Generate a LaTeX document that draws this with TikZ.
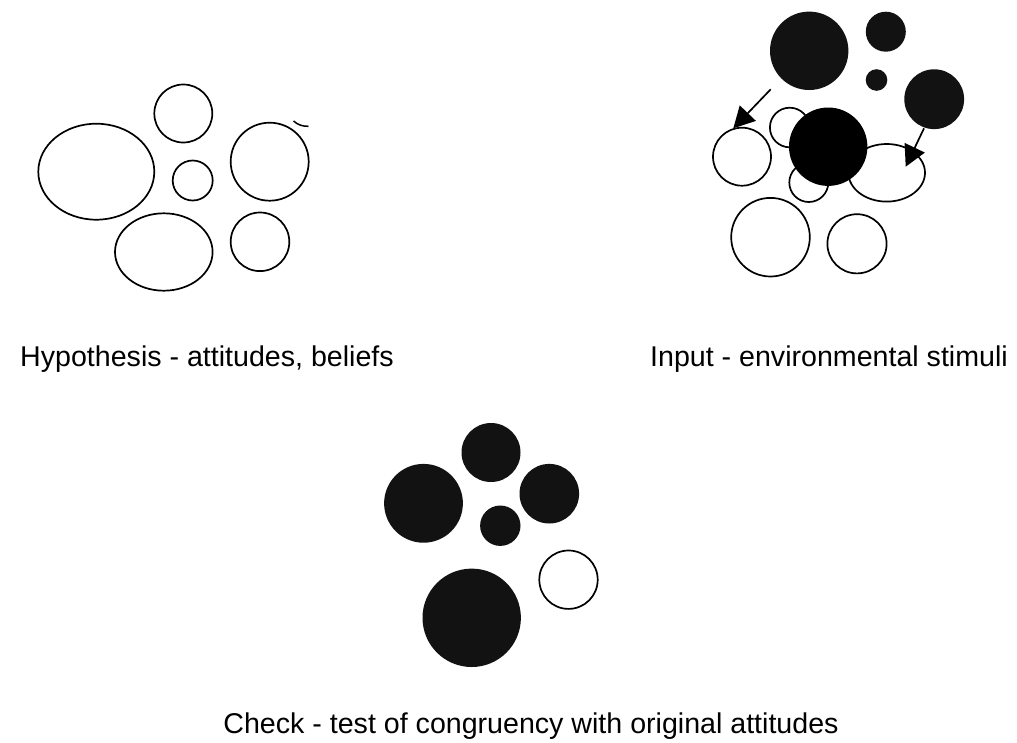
\documentclass[tikz,border=0pt]{standalone}
\usepackage{fontspec}
\setmainfont{Liberation Sans}
\usetikzlibrary{arrows.meta}
\begin{document}
\begin{tikzpicture}[x=1pt,y=-1pt,
  ring/.style={draw=black,line width=1.7pt,fill=white},
  dot/.style={fill=black!93,draw=none},
  solid dot/.style={fill=black,draw=none},
  label/.style={font=\fontsize{28.6}{32}\selectfont,inner sep=0pt},
  link/.style={line width=1.7pt,-{Triangle[length=21pt,width=22pt]},shorten >=0pt}]
\useasboundingbox (0,0) rectangle (1017,742);

% --- hypothesis cluster
\draw[ring] (96.3,171.7) ellipse [x radius=58,y radius=48];
\draw[ring] (183.3,113.5) circle [radius=29];
\draw[ring] (192.7,180.5) circle [radius=20];
\draw[ring] (269.7,161.7) circle [radius=39];
\draw[ring] (163.8,252) ellipse [x radius=48.8,y radius=38.7];
\draw[ring] (260,241.8) circle [radius=29.3];
\draw[line width=1.5pt] (293.5,121) .. controls (298,125) and (303,126.5) .. (308.5,126.3);
\node[label,anchor=base west] (hyp) at (20,366) {Hypothesis - attitudes, beliefs};

% --- input cluster
\draw[ring] (742,156.7) circle [radius=29];
\draw[ring] (789.7,127.5) circle [radius=19.8];
\draw[ring] (808.8,182.5) circle [radius=19.5];
\draw[ring] (886.7,172.8) ellipse [x radius=38.3,y radius=28.8];
\draw[ring] (770.5,237.2) circle [radius=39.3];
\draw[ring] (857,243.8) circle [radius=29.6];
\path[dot] (809.2,50.8) circle [radius=39.2];
\path[dot] (885.8,31.7) circle [radius=20];
\path[dot] (876.5,80) circle [radius=10.8];
\path[dot] (934.2,99.2) circle [radius=29.9];
\path[solid dot] (828.2,146.7) circle [radius=39.2];
\coordinate (a1s) at (770.7,89.3);
\coordinate (a1e) at (733.3,128.3);
\coordinate (a2s) at (924,128.3);
\coordinate (a2e) at (905.7,166.7);
\draw[link] (a1s) -- (a1e);
\draw[link] (a2s) -- (a2e);
\node[label,anchor=base east] (inp) at (1008,366) {Input - environmental stimuli};

% --- check cluster
\path[dot] (491,452.5) circle [radius=29.5];
\path[dot] (423.5,503.3) circle [radius=39.4];
\path[dot] (549.3,493.7) circle [radius=29.8];
\path[dot] (500.3,525.7) circle [radius=20.2];
\path[dot] (471.7,617.8) circle [radius=49.2];
\draw[ring] (568.5,579.7) circle [radius=29.2];
\node[label,anchor=base] (chk) at (531,733) {Check - test of congruency with original attitudes};
\end{tikzpicture}
\end{document}
